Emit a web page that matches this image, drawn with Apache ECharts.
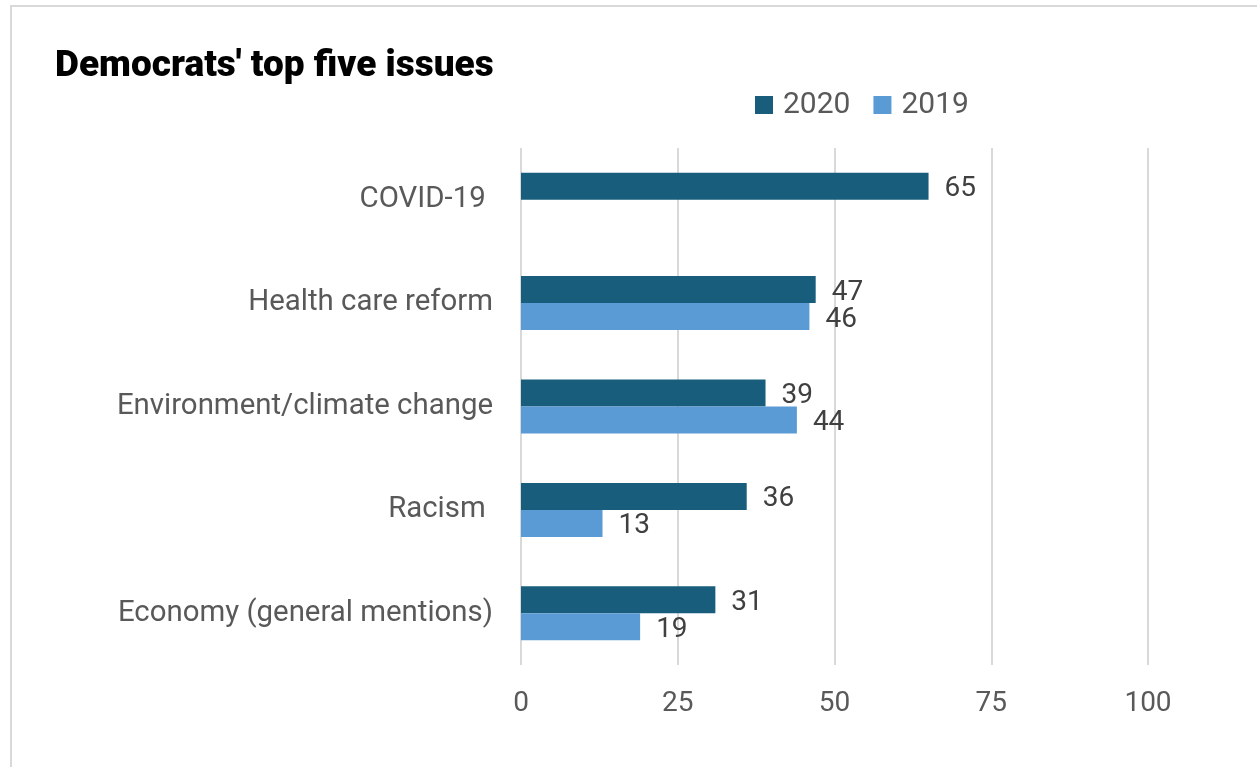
<!DOCTYPE html>
<html>
<head>
<meta charset="utf-8">
<script src="https://cdn.jsdelivr.net/npm/echarts@6/dist/echarts.min.js"></script>
<style>
  html, body { margin: 0; padding: 0; background: #fff; }
  #chart { width: 1257px; height: 767px; }
</style>
</head>
<body>
<div id="chart"></div>
<script>
// Issue categories, top to bottom
const categories = ['COVID-19 ', 'Health care reform', 'Environment/climate change', 'Racism ', 'Economy (general mentions)'];
// Share of mentions, percent
const values2020 = [65, 47, 39, 36, 31];
const values2019 = [null, 46, 44, 13, 19];
const xTicks = [0, 25, 50, 75, 100];

const FONT = 'Roboto, "Liberation Sans", sans-serif';

const chart = echarts.init(document.getElementById('chart'));

const valueLabel = {
  show: true,
  position: 'right',
  distance: 16,
  offset: [0, 3],
  color: '#404040',
  fontSize: 28,
  fontFamily: FONT
};

chart.setOption({
  animation: false,
  backgroundColor: '#ffffff',
  graphic: [{
    type: 'rect',
    shape: { x: 11, y: 6, width: 1400, height: 900 },
    style: { fill: 'none', stroke: '#d9d9d9', lineWidth: 2 },
    silent: true
  }],
  title: {
    text: "Democrats' top five issues",
    left: 50,
    top: 43,
    textStyle: { fontFamily: FONT, fontWeight: 900, fontSize: 37, color: '#000000' }
  },
  legend: {
    left: 750,
    top: 85,
    itemWidth: 18,
    itemHeight: 18,
    itemGap: 23,
    icon: 'rect',
    data: ['2020', '2019'],
    textStyle: { fontFamily: FONT, fontSize: 30, color: '#595959', padding: [0, 0, 0, 5] }
  },
  grid: { left: 521, right: 109, top: 148, bottom: 102, containLabel: false },
  xAxis: {
    type: 'value',
    min: xTicks[0],
    max: xTicks[xTicks.length - 1],
    interval: xTicks[1] - xTicks[0],
    axisLine: { show: false },
    axisTick: { show: false },
    splitLine: { lineStyle: { color: '#d9d9d9', width: 2 } },
    axisLabel: { fontFamily: FONT, fontSize: 28, color: '#595959', margin: 25 }
  },
  yAxis: {
    type: 'category',
    inverse: true,
    data: categories,
    axisLine: { show: false },
    axisTick: { show: false },
    axisLabel: { fontFamily: FONT, fontSize: 29.4, color: '#595959', margin: 28, padding: [4, 0, 0, 0] }
  },
  series: [
    {
      name: '2020',
      type: 'bar',
      data: values2020,
      barWidth: 27,
      barGap: '0%',
      itemStyle: { color: '#185e7c' },
      label: valueLabel
    },
    {
      name: '2019',
      type: 'bar',
      data: values2019,
      barWidth: 27,
      barGap: '0%',
      itemStyle: { color: '#5b9bd5' },
      label: valueLabel
    }
  ]
});
</script>
</body>
</html>
